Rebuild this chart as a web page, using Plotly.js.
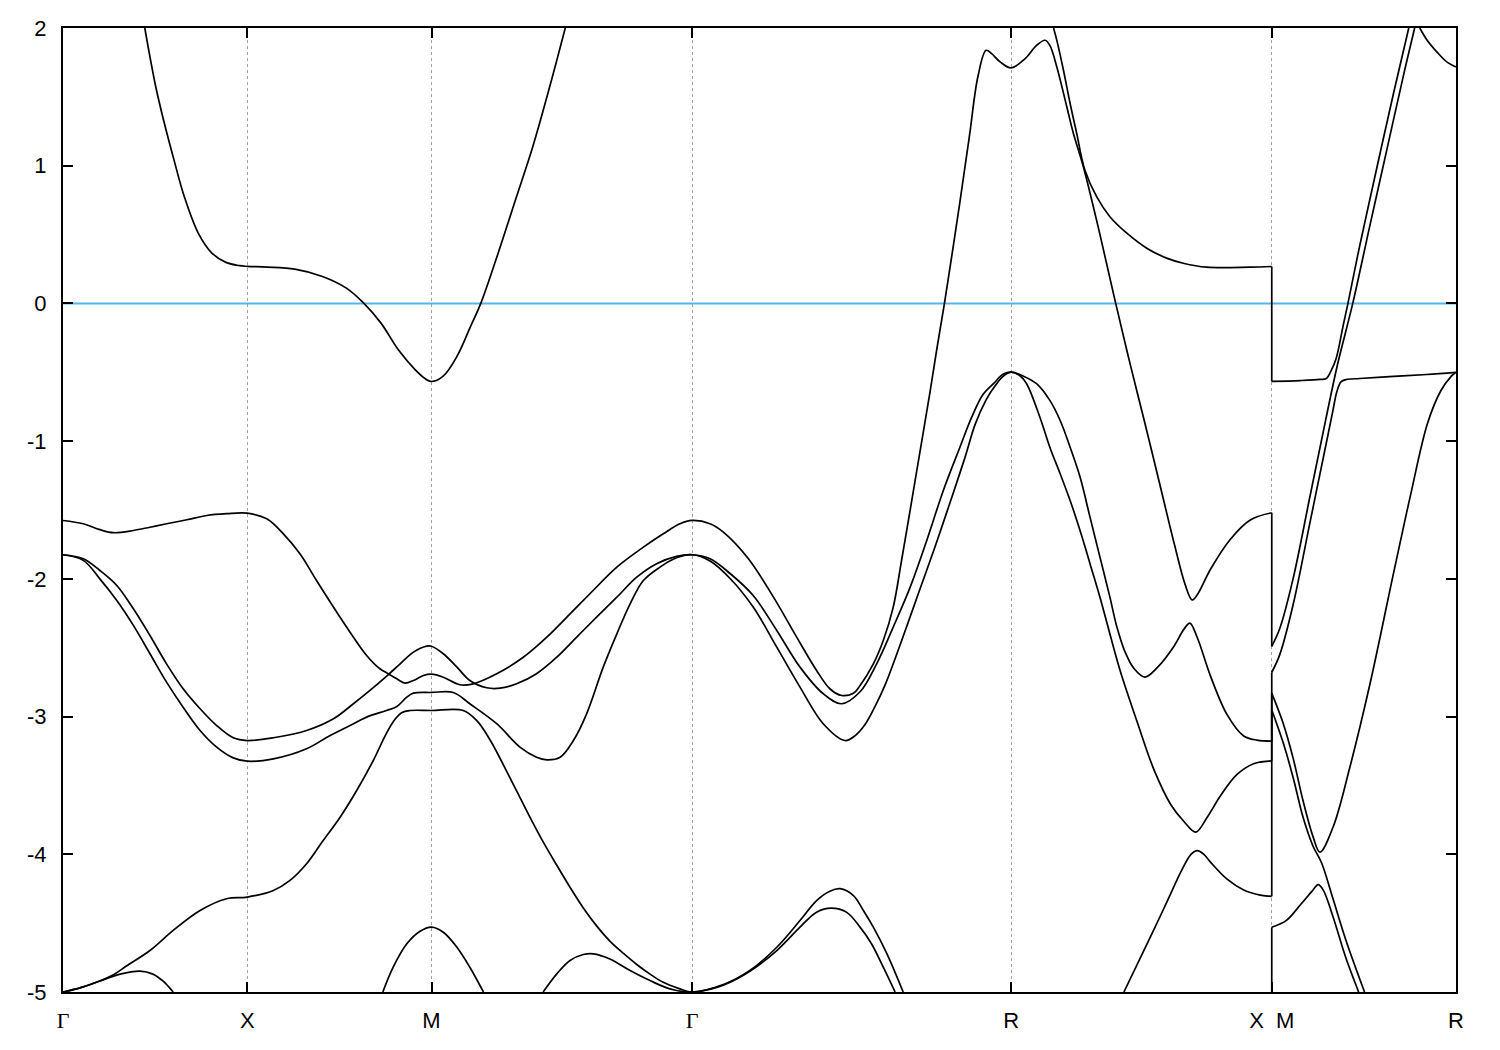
<!DOCTYPE html>
<html>
<head>
<meta charset="utf-8">
<script src="https://cdn.plot.ly/plotly-3.0.1.min.js"></script>
<style>html,body{margin:0;padding:0;background:#fff;}#chart{width:1500px;height:1050px;}</style>
</head>
<body>
<div id="chart"></div>
<script>
// High-symmetry points along the k-path (units of 2*pi/a)
const kTicks = [0, 0.5, 1.0, 1.7071, 2.5731, 3.2802, 3.7802];
const G = '<span style="font-family:Liberation Serif,Times New Roman,serif">Γ</span>';
const kLabels = [G, 'X', 'M', G, 'R', 'X\u00a0\u00a0M', 'R'];
const eTicks = [-5, -4, -3, -2, -1, 0, 1, 2];
const eLabels = ['-5', '-4', '-3', '-2', '-1', '0', '1', '2'];
const fermiLevel = 0;

// Discontinuity X|M: band energies at X and at M
const kJump = 3.2802;
const jumpFromX = [0.268, -1.52, -3.178, -3.321, -4.305, -5.0];
const jumpToM = [-0.566, -2.49, -2.68, -2.83, -2.95, -4.53];

// Bands as [k, E] pairs; null breaks where a band leaves the energy window
const bandA_path1 = [[0.222,2.0],[0.236,1.79],[0.252,1.57],[0.273,1.33],[0.301,1.044],[0.329,0.777],[0.367,0.511],[0.404,0.366],[0.442,0.298],[0.479,0.274],[0.5,0.269],[0.554,0.264],[0.629,0.249],[0.704,0.196],[0.769,0.111],[0.816,0.002],[0.863,-0.143],[0.910,-0.337],[0.956,-0.482],[0.985,-0.55],[1.0,-0.567],[1.031,-0.530],[1.069,-0.385],[1.106,-0.167],[1.134,0.002],[1.181,0.366],[1.228,0.753],[1.275,1.140],[1.321,1.576],[1.363,2.0],null,[2.688,2.0],[2.697,1.91],[2.715,1.693],[2.733,1.452],[2.751,1.234],[2.773,0.969],[2.805,0.775],[2.841,0.630],[2.887,0.510],[2.941,0.401],[2.995,0.329],[3.040,0.292],[3.104,0.263],[3.221,0.263],[3.280,0.268]];
const bandA_path2 = [[3.280,-0.566],[3.357,-0.56],[3.411,-0.552],[3.428,-0.545],[3.441,-0.49],[3.455,-0.40],[3.474,-0.16],[3.487,0.0],[3.519,0.42],[3.565,0.98],[3.611,1.53],[3.652,2.0]];

const bandB_path1 = [[0,-1.576],[0.055,-1.60],[0.100,-1.643],[0.137,-1.665],[0.191,-1.649],[0.236,-1.625],[0.281,-1.60],[0.336,-1.571],[0.390,-1.540],[0.444,-1.527],[0.5,-1.523],[0.553,-1.564],[0.598,-1.673],[0.643,-1.818],[0.688,-2.012],[0.734,-2.205],[0.779,-2.387],[0.824,-2.556],[0.860,-2.653],[0.880,-2.685],[0.906,-2.726],[0.928,-2.757],[0.951,-2.738],[0.978,-2.702],[1.0,-2.692],[1.032,-2.714],[1.077,-2.769],[1.113,-2.762],[1.177,-2.689],[1.249,-2.569],[1.313,-2.423],[1.376,-2.254],[1.430,-2.108],[1.503,-1.915],[1.575,-1.77],[1.629,-1.673],[1.674,-1.60],[1.707,-1.576],[1.756,-1.60],[1.792,-1.661],[1.860,-1.854],[1.928,-2.133],[1.991,-2.423],[2.045,-2.665],[2.081,-2.798],[2.113,-2.847],[2.145,-2.830],[2.163,-2.775],[2.199,-2.617],[2.226,-2.447],[2.253,-2.205],[2.276,-1.86],[2.299,-1.50],[2.326,-1.07],[2.353,-0.64],[2.372,-0.32],[2.392,0.0],[2.433,0.72],[2.460,1.22],[2.483,1.65],[2.505,1.838],[2.520,1.814],[2.543,1.754],[2.573,1.710],[2.611,1.778],[2.642,1.874],[2.665,1.911],[2.678,1.874],[2.697,1.717],[2.724,1.428],[2.742,1.234],[2.769,0.993],[2.814,0.50],[2.855,0.02],[2.895,-0.43],[2.936,-0.87],[2.977,-1.32],[3.017,-1.76],[3.045,-2.04],[3.064,-2.153],[3.078,-2.116],[3.114,-1.93],[3.168,-1.712],[3.222,-1.572],[3.280,-1.52]];
const bandB_path2 = [[3.280,-2.49],[3.302,-2.36],[3.338,-2.0],[3.384,-1.40],[3.427,-0.84],[3.459,-0.44],[3.500,0.0],[3.546,0.56],[3.592,1.11],[3.638,1.66],[3.668,2.0],null,[3.682,2.0],[3.701,1.915],[3.730,1.821],[3.757,1.75],[3.780,1.717]];

const bandC_path1 = [[0,-1.825],[0.055,-1.854],[0.100,-1.939],[0.146,-2.048],[0.191,-2.217],[0.236,-2.411],[0.281,-2.617],[0.326,-2.798],[0.372,-2.943],[0.417,-3.065],[0.462,-3.154],[0.5,-3.174],[0.571,-3.154],[0.661,-3.101],[0.734,-3.016],[0.788,-2.907],[0.833,-2.810],[0.880,-2.702],[0.915,-2.617],[0.951,-2.532],[0.987,-2.489],[1.0,-2.489],[1.032,-2.544],[1.069,-2.641],[1.104,-2.738],[1.150,-2.791],[1.186,-2.794],[1.231,-2.762],[1.285,-2.689],[1.340,-2.569],[1.394,-2.423],[1.448,-2.278],[1.503,-2.133],[1.557,-1.988],[1.611,-1.890],[1.665,-1.837],[1.707,-1.825],[1.756,-1.854],[1.811,-1.963],[1.873,-2.121],[1.937,-2.375],[2.000,-2.641],[2.063,-2.834],[2.113,-2.907],[2.163,-2.82],[2.208,-2.617],[2.253,-2.35],[2.299,-2.06],[2.344,-1.721],[2.389,-1.358],[2.434,-1.044],[2.466,-0.826],[2.497,-0.66],[2.525,-0.583],[2.551,-0.515],[2.573,-0.499],[2.608,-0.53],[2.642,-0.583],[2.678,-0.704],[2.706,-0.85],[2.733,-1.044],[2.760,-1.261],[2.787,-1.552],[2.814,-1.842],[2.841,-2.133],[2.860,-2.35],[2.882,-2.53],[2.906,-2.65],[2.936,-2.713],[2.970,-2.643],[3.015,-2.489],[3.042,-2.365],[3.058,-2.321],[3.078,-2.426],[3.114,-2.706],[3.159,-2.986],[3.204,-3.141],[3.240,-3.171],[3.280,-3.178]];
const bandC_path2 = [[3.280,-2.68],[3.302,-2.55],[3.338,-2.19],[3.384,-1.59],[3.427,-1.03],[3.446,-0.78],[3.457,-0.64],[3.468,-0.57],[3.482,-0.553],[3.519,-0.545],[3.611,-0.53],[3.701,-0.516],[3.780,-0.50]];

const bandD_path1 = [[0,-1.825],[0.055,-1.866],[0.100,-2.0],[0.146,-2.157],[0.191,-2.338],[0.236,-2.544],[0.281,-2.750],[0.326,-2.932],[0.372,-3.101],[0.417,-3.222],[0.462,-3.30],[0.5,-3.324],[0.571,-3.307],[0.661,-3.234],[0.725,-3.137],[0.779,-3.065],[0.824,-3.004],[0.878,-2.956],[0.906,-2.927],[0.933,-2.859],[0.951,-2.830],[1.0,-2.825],[1.059,-2.825],[1.104,-2.907],[1.177,-3.052],[1.240,-3.222],[1.285,-3.295],[1.313,-3.314],[1.349,-3.295],[1.385,-3.174],[1.421,-2.980],[1.466,-2.641],[1.503,-2.399],[1.539,-2.181],[1.575,-2.012],[1.620,-1.915],[1.665,-1.847],[1.707,-1.825],[1.756,-1.87],[1.811,-1.999],[1.873,-2.205],[1.937,-2.496],[2.000,-2.786],[2.063,-3.052],[2.122,-3.174],[2.149,-3.14],[2.176,-3.06],[2.203,-2.93],[2.231,-2.77],[2.276,-2.447],[2.321,-2.108],[2.366,-1.77],[2.412,-1.407],[2.448,-1.116],[2.475,-0.88],[2.505,-0.70],[2.529,-0.60],[2.551,-0.53],[2.573,-0.499],[2.597,-0.525],[2.615,-0.583],[2.651,-0.826],[2.678,-1.044],[2.706,-1.237],[2.733,-1.431],[2.760,-1.649],[2.787,-1.89],[2.814,-2.133],[2.841,-2.40],[2.868,-2.66],[2.916,-3.047],[2.961,-3.389],[3.006,-3.638],[3.042,-3.762],[3.074,-3.839],[3.105,-3.731],[3.141,-3.575],[3.186,-3.42],[3.231,-3.342],[3.280,-3.321]];
const bandD_path2 = [[3.280,-2.83],[3.310,-3.04],[3.338,-3.30],[3.365,-3.61],[3.392,-3.87],[3.411,-3.985],[3.447,-3.80],[3.492,-3.37],[3.547,-2.76],[3.611,-1.955],[3.657,-1.39],[3.703,-0.87],[3.739,-0.634],[3.767,-0.53],[3.780,-0.5]];

const bandE_path1 = [[0,-5.0],[0.046,-4.97],[0.100,-4.92],[0.137,-4.875],[0.173,-4.81],[0.236,-4.699],[0.299,-4.553],[0.372,-4.408],[0.444,-4.323],[0.5,-4.311],[0.571,-4.263],[0.616,-4.19],[0.661,-4.069],[0.706,-3.90],[0.752,-3.731],[0.797,-3.537],[0.842,-3.319],[0.878,-3.12],[0.901,-3.02],[0.920,-2.97],[0.942,-2.956],[1.0,-2.956],[1.086,-2.956],[1.123,-3.03],[1.159,-3.17],[1.195,-3.35],[1.231,-3.54],[1.267,-3.73],[1.303,-3.91],[1.340,-4.08],[1.376,-4.24],[1.412,-4.39],[1.448,-4.52],[1.484,-4.63],[1.521,-4.72],[1.557,-4.80],[1.593,-4.87],[1.629,-4.93],[1.674,-4.977],[1.707,-5.0],[1.792,-4.946],[1.864,-4.844],[1.937,-4.675],[2.000,-4.481],[2.045,-4.336],[2.081,-4.268],[2.109,-4.25],[2.145,-4.30],[2.172,-4.408],[2.199,-4.529],[2.236,-4.723],[2.280,-5.0],null,[2.879,-5.0],[2.933,-4.7],[2.988,-4.39],[3.037,-4.11],[3.061,-4.0],[3.078,-3.973],[3.096,-4.0],[3.114,-4.057],[3.159,-4.181],[3.204,-4.259],[3.249,-4.296],[3.280,-4.305]];
const bandE_path2 = [[3.280,-2.95],[3.310,-3.18],[3.338,-3.44],[3.365,-3.73],[3.392,-3.94],[3.415,-4.06],[3.446,-4.32],[3.481,-4.62],[3.532,-5.0]];

const bandF_path1 = [[0,-5.0],[0.046,-4.97],[0.100,-4.92],[0.155,-4.87],[0.209,-4.848],[0.244,-4.87],[0.271,-4.92],[0.299,-5.0],null,[0.868,-5.0],[0.896,-4.82],[0.933,-4.65],[0.969,-4.559],[1.0,-4.529],[1.032,-4.566],[1.069,-4.675],[1.104,-4.82],[1.141,-5.0],null,[1.303,-5.0],[1.340,-4.868],[1.376,-4.771],[1.412,-4.728],[1.439,-4.723],[1.484,-4.76],[1.539,-4.844],[1.593,-4.917],[1.647,-4.977],[1.707,-5.0],[1.792,-4.95],[1.864,-4.85],[1.937,-4.699],[2.000,-4.529],[2.045,-4.42],[2.085,-4.391],[2.126,-4.42],[2.163,-4.529],[2.194,-4.65],[2.226,-4.82],[2.258,-5.0]];
const bandF_path2 = [[3.280,-4.53],[3.320,-4.48],[3.357,-4.37],[3.392,-4.26],[3.406,-4.22],[3.420,-4.26],[3.446,-4.45],[3.481,-4.75],[3.516,-5.0]];

const bandPaths = [bandA_path1, bandA_path2, bandB_path1, bandB_path2, bandC_path1, bandC_path2,
                   bandD_path1, bandD_path2, bandE_path1, bandE_path2, bandF_path1, bandF_path2];

const kRange = [kTicks[0], kTicks[kTicks.length - 1]];
const traces = [{
  type: 'scatter', mode: 'lines', x: kRange, y: [fermiLevel, fermiLevel],
  line: {color: '#56b4e9', width: 2}, hoverinfo: 'skip', showlegend: false
}];
const lineStyle = {color: '#000000', width: 1.7, shape: 'spline', smoothing: 1};
bandPaths.forEach(p => {
  traces.push({
    type: 'scatter', mode: 'lines',
    x: p.map(q => q ? q[0] : null),
    y: p.map(q => q ? q[1] : null),
    line: lineStyle, connectgaps: false, hoverinfo: 'skip', showlegend: false
  });
});
jumpFromX.forEach((e, i) => {
  traces.push({
    type: 'scatter', mode: 'lines',
    x: [kJump, kJump], y: [e, jumpToM[i]],
    line: {color: '#000000', width: 1.7}, hoverinfo: 'skip', showlegend: false
  });
});

const font = {family: 'Liberation Sans, Arial, sans-serif', size: 22, color: '#000000'};
const layout = {
  width: 1500, height: 1050,
  margin: {l: 63, r: 44, t: 28, b: 58, pad: 0},
  paper_bgcolor: '#ffffff', plot_bgcolor: '#ffffff',
  showlegend: false,
  font: font,
  xaxis: {
    range: kRange, tickmode: 'array', tickvals: kTicks, ticktext: kLabels,
    showgrid: true, gridcolor: '#a0a0a0', gridwidth: 1, griddash: '3px,3px',
    zeroline: false, showline: true, linecolor: '#000000', linewidth: 2, mirror: 'ticks',
    ticks: 'inside', ticklen: 10, tickwidth: 2, tickcolor: '#000000', tickfont: font,
    ticklabelstandoff: 8, fixedrange: true
  },
  yaxis: {
    range: [-5, 2], tickmode: 'array', tickvals: eTicks, ticktext: eLabels,
    showgrid: false, zeroline: false,
    showline: true, linecolor: '#000000', linewidth: 2, mirror: 'ticks',
    ticks: 'inside', ticklen: 10, tickwidth: 2, tickcolor: '#000000', tickfont: font,
    ticklabelstandoff: 10, fixedrange: true
  }
};
Plotly.newPlot('chart', traces, layout, {displayModeBar: false, staticPlot: true});
</script>
</body>
</html>
